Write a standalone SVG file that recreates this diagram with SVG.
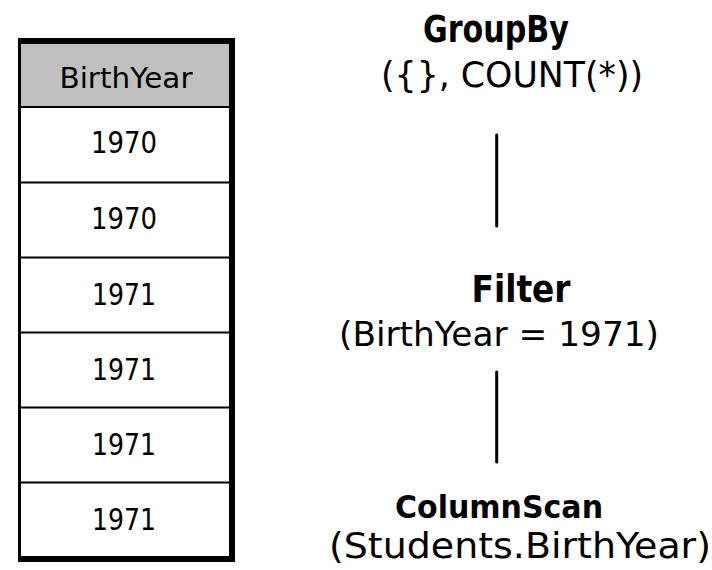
<svg xmlns="http://www.w3.org/2000/svg" width="712" height="570" viewBox="0 0 712 570">
  <style>
    text { font-family: "Comic Sans MS", "DejaVu Sans", sans-serif; fill: #000; text-anchor: middle; }
    .cell { font-size: 31px; }
    .head { font-size: 28px; }
    .op { font-size: 37px; font-weight: bold; }
    .arg { font-size: 36px; }
    .rule { stroke: #000; stroke-width: 2; }
    .edge { stroke: #000; stroke-width: 3; stroke-linecap: round; }
  </style>

  <rect width="712" height="570" fill="#fff"/>

  <!-- BirthYear column -->
  <g id="column-table">
    <rect x="18" y="38" width="217" height="524" fill="#000"/>
    <rect x="21" y="44" width="208" height="512" fill="#fff"/>
    <rect x="21" y="44" width="208" height="63" fill="#c0c0c0"/>
    <line class="rule" x1="21" y1="107" x2="229" y2="107"/>
    <line class="rule" x1="21" y1="182.5" x2="229" y2="182.5"/>
    <line class="rule" x1="21" y1="257.5" x2="229" y2="257.5"/>
    <line class="rule" x1="21" y1="332.5" x2="229" y2="332.5"/>
    <line class="rule" x1="21" y1="407.5" x2="229" y2="407.5"/>
    <line class="rule" x1="21" y1="482.5" x2="229" y2="482.5"/>
    <text class="head" x="126" y="88" textLength="133" lengthAdjust="spacingAndGlyphs">BirthYear</text>
    <text class="cell" x="124" y="153" textLength="66" lengthAdjust="spacingAndGlyphs">1970</text>
    <text class="cell" x="124" y="229" textLength="66" lengthAdjust="spacingAndGlyphs">1970</text>
    <text class="cell" x="124" y="305" textLength="64" lengthAdjust="spacingAndGlyphs">1971</text>
    <text class="cell" x="124" y="380" textLength="64" lengthAdjust="spacingAndGlyphs">1971</text>
    <text class="cell" x="124" y="455" textLength="64" lengthAdjust="spacingAndGlyphs">1971</text>
    <text class="cell" x="124" y="530" textLength="64" lengthAdjust="spacingAndGlyphs">1971</text>
  </g>

  <!-- plan operators -->
  <g id="node-groupby">
    <text class="op" x="496" y="42" textLength="146" lengthAdjust="spacingAndGlyphs">GroupBy</text>
    <text class="arg" x="512" y="87" textLength="262" lengthAdjust="spacingAndGlyphs">({}, COUNT(*))</text>
  </g>

  <g id="node-filter">
    <text class="op" x="521" y="302" textLength="99" lengthAdjust="spacingAndGlyphs">Filter</text>
    <text class="arg" x="499" y="346" style="font-size:34px" textLength="320" lengthAdjust="spacingAndGlyphs">(BirthYear = 1971)</text>
  </g>

  <g id="node-columnscan">
    <text class="op" x="499" y="518" style="font-size:32px" textLength="208" lengthAdjust="spacingAndGlyphs">ColumnScan</text>
    <text class="arg" x="520" y="558" textLength="382" lengthAdjust="spacingAndGlyphs">(Students.BirthYear)</text>
  </g>

  <!-- plan edges -->
  <g id="connectors">
    <line class="edge" x1="496.7" y1="135" x2="496.7" y2="226"/>
    <line class="edge" x1="496.7" y1="372" x2="496.7" y2="462"/>
  </g>
</svg>
